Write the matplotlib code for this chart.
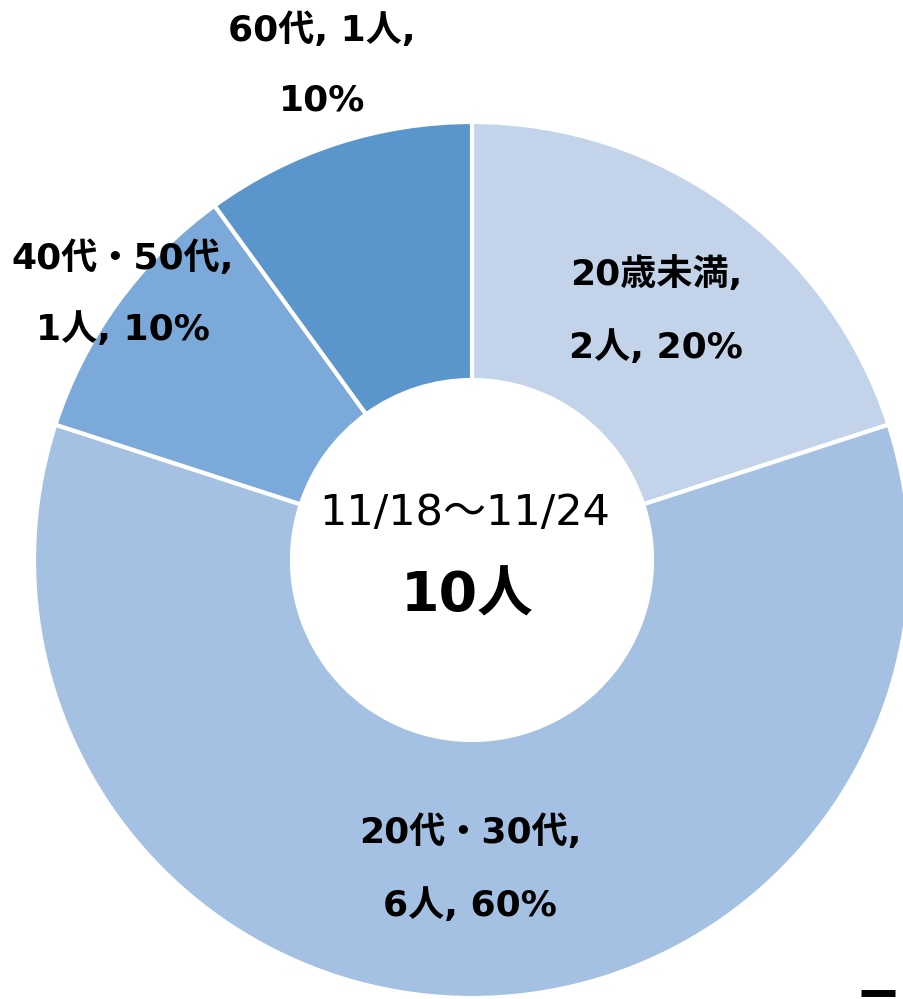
import matplotlib.pyplot as plt

plt.rcParams['font.family'] = ['DejaVu Sans', 'Noto Sans CJK JP']

categories = ["20歳未満", "20代・30代", "40代・50代", "60代"]
counts = [2, 6, 1, 1]
percents = [20, 60, 10, 10]
colors = ["#C3D4EA", "#A4C0E3", "#7BA9DA", "#5A95CB"]
period = "11/18～11/24"
total = sum(counts)

fig = plt.figure(figsize=(9.04, 9.99), dpi=100)
ax = fig.add_axes([0, 0, 1, 1])

ax.pie(counts, colors=colors, startangle=90, counterclock=False,
       center=(472, 439), radius=438, frame=True,
       wedgeprops=dict(width=258, edgecolor="white", linewidth=3))
ax.set_xlim(0, 904)
ax.set_ylim(0, 999)
ax.set_aspect("equal")
ax.axis("off")

# label text for each slice (two lines, as in the original)
label_lines = [
    (f"{categories[0]},", f"{counts[0]}人, {percents[0]}%"),
    (f"{categories[1]},", f"{counts[1]}人, {percents[1]}%"),
    (f"{categories[2]},", f"{counts[2]}人, {percents[2]}%"),
    (f"{categories[3]}, {counts[3]}人,", f"{percents[3]}%"),
]
label_pos = [(656, 274, 348), (470, 832, 906), (123, 258, 330), (322, 30, 100)]
for (l1, l2), (x, y1, y2) in zip(label_lines, label_pos):
    ax.text(x, 999 - y1, l1, ha="center", va="center", fontsize=26, fontweight="bold")
    ax.text(x, 999 - y2, l2, ha="center", va="center", fontsize=26, fontweight="bold")

ax.text(465, 999 - 513, period, ha="center", va="center", fontsize=31)
ax.text(467, 999 - 597, f"{total}人", ha="center", va="center", fontsize=40, fontweight="bold")

ax.plot([861, 895], [6, 6], color="black", linewidth=5, solid_capstyle="butt")

fig.savefig("out.png", dpi=100)
